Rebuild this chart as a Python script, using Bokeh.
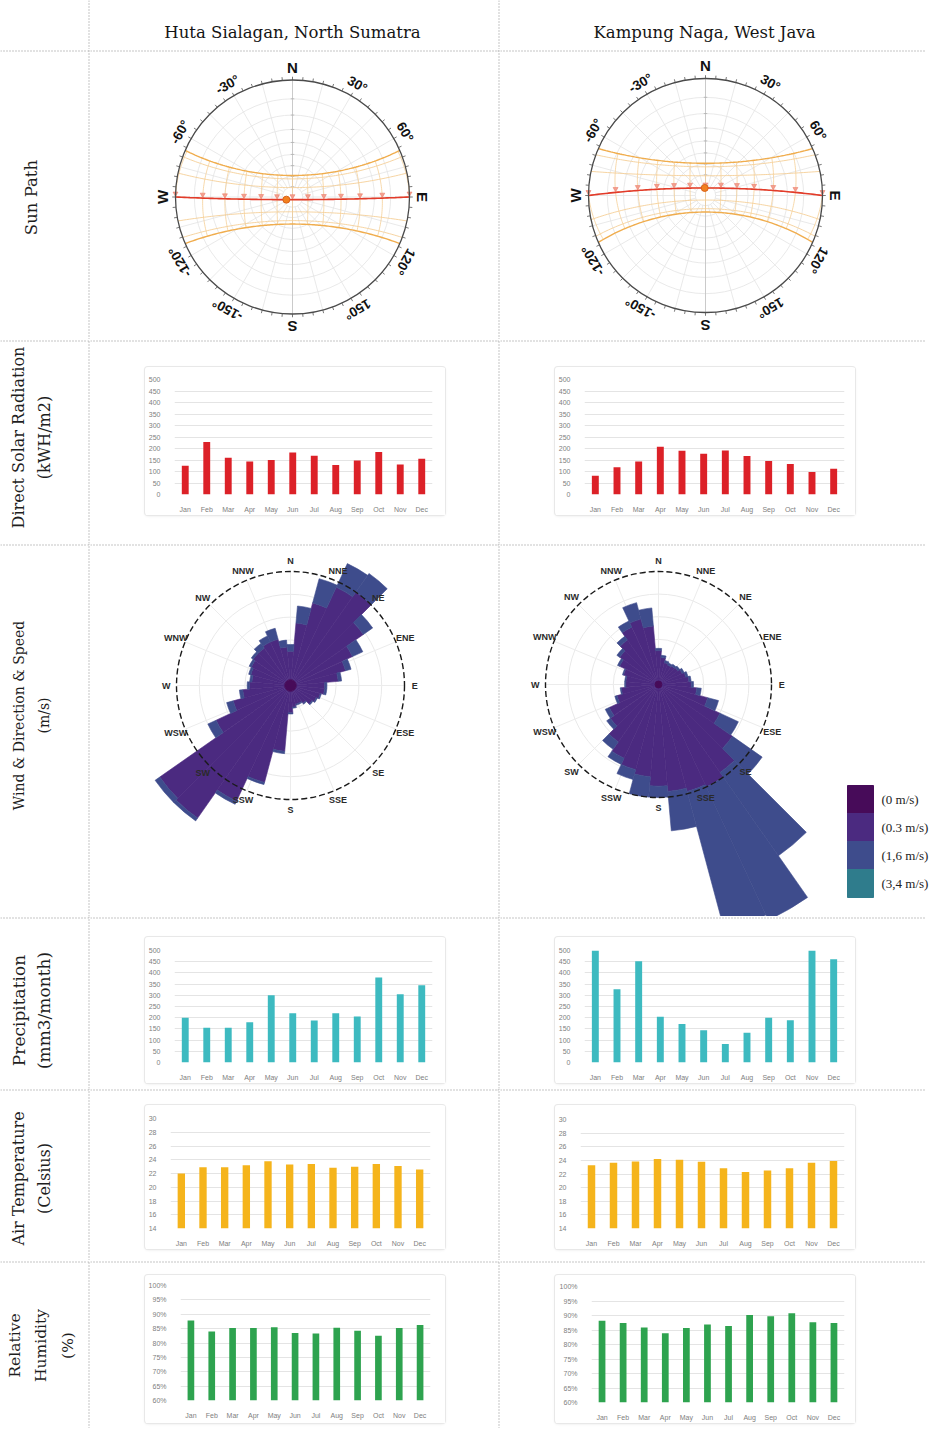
import numpy as np
from bokeh.plotting import figure
from bokeh.layouts import row, column
from bokeh.models import Range1d, FactorRange, FixedTicker, Spacer
from bokeh.embed import file_html
from bokeh.resources import INLINE
from bokeh.core.properties import value

# ---------------- data ----------------
sites = ["Huta Sialagan, North Sumatra", "Kampung Naga, West Java"]
row_titles = ["Sun Path", "Direct Solar Radiation\n(kWH/m2)", "Wind & Direction & Speed\n(m/s)",
              "Precipitation\n(mm3/month)", "Air Temperature\n(Celsius)", "Relative\nHumidity\n(%)"]
months = ["Jan", "Feb", "Mar", "Apr", "May", "Jun", "Jul", "Aug", "Sep", "Oct", "Nov", "Dec"]

solar_huta = [125, 228, 160, 143, 150, 183, 168, 128, 148, 185, 130, 155]
solar_naga = [82, 118, 143, 208, 190, 177, 191, 167, 146, 133, 98, 112]
precip_huta = [200, 155, 155, 180, 300, 220, 187, 220, 205, 380, 305, 345]
precip_naga = [500, 327, 452, 204, 172, 144, 83, 133, 200, 189, 500, 461]
temp_huta = [22.0, 22.9, 22.9, 23.2, 23.8, 23.3, 23.4, 22.85, 23.0, 23.4, 23.1, 22.6]
temp_naga = [23.3, 23.65, 23.85, 24.2, 24.1, 23.8, 22.85, 22.3, 22.5, 22.85, 23.65, 23.9]
hum_huta = [87.8, 84.0, 85.2, 85.2, 85.5, 83.5, 83.3, 85.3, 84.3, 82.5, 85.2, 86.3]
hum_naga = [88.2, 87.4, 85.9, 83.9, 85.7, 86.9, 86.4, 90.2, 89.7, 90.8, 87.7, 87.4]

solar_ticks = [0, 50, 100, 150, 200, 250, 300, 350, 400, 450, 500]
temp_ticks = [14, 16, 18, 20, 22, 24, 26, 28, 30]
hum_ticks = [60, 65, 70, 75, 80, 85, 90, 95, 100]
hum_tick_labels = ["60%", "65%", "70%", "75%", "80%", "85%", "90%", "95%", "100%"]

# sun path
latitude_huta = 2.6
latitude_naga = -7.36
month_declinations = [23.44, 20.2, 11.8, 0.0, -11.8, -20.2, -23.44]
path_declination = 0.0
hours = [6, 7, 8, 9, 10, 11, 12, 13, 14, 15, 16, 17, 18]
now_hour_huta = 12.4
now_hour_naga = 12.05
compass_az = [0, 30, 60, 90, 120, 150, 180, 210, 240, 270, 300, 330]
compass_text = ["N", "30°", "60°", "E", "120°", "150°", "S", "-150°", "-120°", "W", "-60°", "-30°"]

# wind rose (sector centres, degrees clockwise from north; radii in units of the dashed ring)
wind_dirs = [0, 10, 20, 30, 40, 50, 60, 70, 80, 90, 100, 110, 120, 130, 140, 150, 160, 170,
             180, 190, 200, 210, 220, 230, 240, 250, 260, 270, 280, 290, 300, 310, 320, 330, 340, 350]
wind_labels = ["N", "NNE", "NE", "ENE", "E", "ESE", "SE", "SSE", "S", "SSW", "SW", "WSW", "W", "WNW", "NW", "NNW"]
speed_labels = ["(0 m/s)", "(0.3 m/s)", "(1,6 m/s)", "(3,4 m/s)"]
speed_colors = ["#470b59", "#4b2a80", "#3e4c8c", "#2f7c8c"]

calm_huta = 0.05
wind_huta_03 = [0.25, 0.50, 0.70, 0.90, 0.95, 0.73, 0.55, 0.45, 0.37, 0.25, 0.25, 0.22,
                0.20, 0.18, 0.14, 0.12, 0.12, 0.14, 0.19, 0.53, 0.83, 1.07, 1.37, 1.35,
                0.67, 0.47, 0.37, 0.31, 0.29, 0.31, 0.33, 0.35, 0.35, 0.37, 0.37, 0.29]
wind_huta_16 = [0.06, 0.15, 0.22, 0.23, 0.20, 0.10, 0.10, 0.05, 0.03, 0.02, 0.02, 0.01,
                0.01, 0.01, 0.01, 0.01, 0.01, 0.01, 0.01, 0.02, 0.02, 0.03, 0.03, 0.05,
                0.08, 0.06, 0.03, 0.02, 0.02, 0.02, 0.02, 0.02, 0.05, 0.06, 0.10, 0.06]
wind_huta_34 = [0.0, 0.0, 0.0, 0.0, 0.0, 0.0, 0.0, 0.0, 0.0, 0.0, 0.0, 0.0,
                0.0, 0.0, 0.0, 0.0, 0.0, 0.0, 0.0, 0.0, 0.0, 0.0, 0.0, 0.0,
                0.0, 0.0, 0.0, 0.0, 0.0, 0.0, 0.0, 0.0, 0.0, 0.0, 0.0, 0.0]

calm_naga = 0.03
wind_naga_03 = [0.27, 0.21, 0.17, 0.16, 0.17, 0.18, 0.20, 0.22, 0.24, 0.26, 0.31, 0.42,
                0.57, 0.77, 0.92, 0.97, 0.95, 0.92, 0.87, 0.79, 0.75, 0.69, 0.59, 0.49,
                0.45, 0.35, 0.30, 0.26, 0.26, 0.29, 0.35, 0.39, 0.45, 0.53, 0.57, 0.49]
wind_naga_16 = [0.02, 0.02, 0.02, 0.02, 0.02, 0.02, 0.02, 0.02, 0.02, 0.02, 0.04, 0.10,
                0.18, 0.32, 0.90, 1.30, 1.27, 0.35, 0.10, 0.18, 0.09, 0.06, 0.08, 0.04,
                0.04, 0.02, 0.01, 0.01, 0.01, 0.01, 0.02, 0.03, 0.04, 0.06, 0.15, 0.16]
wind_naga_34 = [0.0, 0.0, 0.0, 0.0, 0.0, 0.0, 0.0, 0.0, 0.0, 0.0, 0.0, 0.0,
                0.0, 0.0, 0.0, 0.0, 0.0, 0.0, 0.0, 0.0, 0.0, 0.0, 0.0, 0.0,
                0.0, 0.0, 0.0, 0.0, 0.0, 0.0, 0.0, 0.0, 0.0, 0.0, 0.0, 0.0]

# ---------------- layout constants (px) ----------------
W_LAB, W_L, W_R = 87, 407, 442
SEP = 3                     # band holding a dotted rule
X_LEFT, X_RIGHT = W_LAB + SEP, W_LAB + SEP + W_L + SEP
RULE_END = 925              # page x where the horizontal rules stop
ROW_H = [49, 287, 201, 370, 169, 169, 165]   # content heights (below each rule band)
SERIF = "DejaVu Serif"
SANS = "Liberation Sans"
SEP_COLOR = "#8a8a8a"


def no_align(p):
    try:
        p.frame_align = False
    except Exception:
        pass
    return p


def blank(w, h, xr, yr):
    p = figure(width=w, height=h, x_range=Range1d(*xr), y_range=Range1d(*yr),
               x_axis_type=None, y_axis_type=None, toolbar_location=None, title=None,
               output_backend="svg", min_border=0)
    p.outline_line_color = None
    p.grid.visible = False
    p.background_fill_color = "white"
    p.border_fill_color = "white"
    return no_align(p)


def top_rule(p, w, h, x0_page, rule):
    """dotted horizontal rule in the top band of a figure whose ranges are pixel based"""
    if rule:
        x1 = max(0, min(w, RULE_END - x0_page))
        p.segment(x0=[0], y0=[h - 1.5], x1=[x1], y1=[h - 1.5], line_color=SEP_COLOR,
                  line_dash="1 2", line_width=1)


def vsep(h, rule):
    p = blank(SEP, h, (0, SEP), (0, h))
    p.segment(x0=[1.5], y0=[0], x1=[1.5], y1=[h], line_color=SEP_COLOR, line_dash="1 2", line_width=1)
    if rule:
        p.segment(x0=[0], y0=[h - 1.5], x1=[SEP], y1=[h - 1.5], line_color=SEP_COLOR,
                  line_dash="1 2", line_width=1)
    return p


def label_fig(h, rule, txt, cx, cy, fs, gap):
    p = blank(W_LAB, h, (0, W_LAB), (0, h))
    top_rule(p, W_LAB, h, 0, rule)
    if txt:
        p.text(x=[cx], y=[h - cy], text=[txt], angle=np.pi / 2, text_align="center",
               text_baseline="middle", text_font=value(SERIF), text_font_size=f"{fs}px",
               text_color="#1e1e1e", text_line_height=gap / fs)
    return p


def header_fig(w, h, txt, cx, cy):
    p = blank(w, h, (0, w), (0, h))
    p.text(x=[cx], y=[h - cy], text=[txt], text_align="center", text_baseline="middle",
           text_font=value(SERIF), text_font_size="16.5px", text_color="#151515")
    return p


def px_rule_polar(p, w, cx, cy, R, x0_page):
    """rule in the top band for figures with polar (R-normalised) ranges"""
    x1 = max(0, min(w, RULE_END - x0_page))
    yv = (cy - 1.5) / R
    p.segment(x0=[-cx / R], y0=[yv], x1=[(x1 - cx) / R], y1=[yv], line_color=SEP_COLOR,
              line_dash="1 2", line_width=1)


# ---------- sun path ----------
def sun_xy(lat, dec, ha):
    phi, d, h = np.radians(lat), np.radians(dec), np.radians(ha)
    e = -np.cos(d) * np.sin(h)
    n = np.sin(d) * np.cos(phi) - np.cos(d) * np.sin(phi) * np.cos(h)
    u = np.sin(d) * np.sin(phi) + np.cos(d) * np.cos(phi) * np.cos(h)
    return e / (1 + u), n / (1 + u), u


def day_path(lat, dec, n=120):
    c = -np.tan(np.radians(lat)) * np.tan(np.radians(dec))
    h0 = np.degrees(np.arccos(np.clip(c, -1, 1)))
    ha = np.linspace(-h0, h0, n)
    x, y, _ = sun_xy(lat, dec, ha)
    return x, y


def sunpath_fig(lat, now_hour, w, h, cx, cy, R, x0_page):
    p = blank(w, h, (-cx / R, (w - cx) / R), (-(h - cy) / R, cy / R))
    px_rule_polar(p, w, cx, cy, R, x0_page)
    zen = np.arange(10, 90, 10)
    rr = np.tan(np.radians(zen) / 2)
    p.circle(x=np.zeros(len(rr)), y=np.zeros(len(rr)), radius=rr, fill_color=None,
             line_color="#e3e3e3", line_width=0.8)
    az = np.radians(np.arange(0, 360, 15))
    r0 = np.tan(np.radians(10) / 2)
    p.segment(x0=r0 * np.sin(az), y0=r0 * np.cos(az), x1=np.sin(az), y1=np.cos(az),
              line_color="#e3e3e3", line_width=0.8)
    p.segment(x0=[0], y0=[-1], x1=[0], y1=[1], line_color="#c2c2c2", line_width=0.8)
    ty = np.tan(np.radians(zen) / 2)
    p.segment(x0=-0.015 * np.ones(len(ty)), y0=ty, x1=0.015 * np.ones(len(ty)), y1=ty,
              line_color="#b0b0b0", line_width=0.8)

    decs = np.linspace(-23.44, 23.44, 41)
    xs, ys = [], []
    for t in hours:
        x, y, u = sun_xy(lat, decs, 15 * (t - 12))
        m = u >= -1e-9
        if m.sum() > 1:
            xs.append(x[m])
            ys.append(y[m])
    p.multi_line(xs, ys, line_color="#f5cf97", line_width=0.8)
    for d in month_declinations:
        x, y = day_path(lat, d)
        sol = abs(d) > 23
        p.line(x, y, line_color="#f0ad4e" if sol else "#f5cf97", line_width=1.4 if sol else 0.9)

    x, y = day_path(lat, path_declination)
    p.line(x, y, line_color="#e23b2b", line_width=1.6)
    hx, hy, _ = sun_xy(lat, path_declination, 15 * (np.array(hours, float) - 12))
    p.scatter(hx, hy + 0.03, marker="inverted_triangle", size=5, fill_color="#f3a08f",
              line_color="#e9735f", line_width=0.5)
    sx, sy, _ = sun_xy(lat, path_declination, 15 * (now_hour - 12))
    p.scatter([sx], [sy], size=7, fill_color="#f2801f", line_color="#d9621a")

    p.circle(x=[0], y=[0], radius=[1], fill_color=None, line_color="#4a4a4a", line_width=1.3)
    ta = np.radians(np.arange(0, 360, 5))
    p.segment(x0=np.sin(ta), y0=np.cos(ta), x1=1.028 * np.sin(ta), y1=1.028 * np.cos(ta),
              line_color="#555555", line_width=0.8)

    a = np.radians(compass_az)
    rl = 1.11
    big = np.array([t in ("N", "S", "E", "W") for t in compass_text])
    txt = np.array(compass_text)
    p.text(x=(rl * np.sin(a))[big], y=(rl * np.cos(a))[big], text=list(txt[big]), angle=(-a)[big],
           text_align="center", text_baseline="middle", text_font=value(SANS),
           text_font_style="bold", text_font_size="15px", text_color="#111111")
    p.text(x=(rl * np.sin(a))[~big], y=(rl * np.cos(a))[~big], text=list(txt[~big]), angle=(-a)[~big],
           text_align="center", text_baseline="middle", text_font=value(SANS),
           text_font_style="bold", text_font_size="13.5px", text_color="#111111")
    return p


# ---------- wind rose ----------
def wind_fig(bands, calm, w, h, cx, cy, R, x0_page, legend=False):
    p = blank(w, h, (-cx / R, (w - cx) / R), (-(h - cy) / R, cy / R))
    px_rule_polar(p, w, cx, cy, R, x0_page)
    rings = [0.2, 0.4, 0.6, 0.8]
    p.circle(x=np.zeros(4), y=np.zeros(4), radius=rings, fill_color=None,
             line_color="#e9e9e9", line_width=1)
    sa = np.radians(np.arange(0, 360, 22.5))
    p.segment(x0=np.zeros(len(sa)), y0=np.zeros(len(sa)), x1=np.sin(sa), y1=np.cos(sa),
              line_color="#ececec", line_width=1)

    d = np.array(wind_dirs, float)
    start = np.radians(90 - (d + 5))
    end = np.radians(90 - (d - 5))
    inner = np.full(len(d), calm)
    for vals, col in zip(bands, speed_colors[1:]):
        vals = np.array(vals, float)
        outer = inner + vals
        m = vals > 0
        if m.any():
            p.annular_wedge(x=0, y=0, inner_radius=inner[m], outer_radius=outer[m],
                            start_angle=start[m], end_angle=end[m],
                            fill_color=col, line_color=col, line_width=0.6)
        inner = outer
    p.circle(x=[0], y=[0], radius=[calm], fill_color=speed_colors[0], line_color=speed_colors[0])
    p.circle(x=[0], y=[0], radius=[1], fill_color=None, line_color="#1a1a1a",
             line_dash="6 3", line_width=1.4)
    la = np.radians(np.arange(0, 360, 22.5))
    rl = 1.09
    p.text(x=rl * np.sin(la), y=rl * np.cos(la), text=wind_labels, text_align="center",
           text_baseline="middle", text_font=value(SANS), text_font_style="bold",
           text_font_size="9px", text_color="#2a2a2a")
    if legend:
        tops = np.array([239, 267, 295, 323], float) + SEP
        p.quad(left=(347 - cx) / R, right=(373 - cx) / R, top=(cy - tops) / R,
               bottom=(cy - tops - 28) / R, fill_color=speed_colors, line_color=speed_colors)
        p.text(x=np.full(4, (381 - cx) / R), y=(cy - tops - 14) / R, text=speed_labels,
               text_align="left", text_baseline="middle", text_font=value("Liberation Serif"),
               text_font_size="13px", text_color="#222222")
    return p


# ---------- bar charts (card = figure, placed inside the cell) ----------
def bar_card(vals, color, cw, ch, bl, bt, fw, fh, y0, y1, ticks, labels, bw=0.32):
    p = figure(width=cw, height=ch, x_range=FactorRange(factors=months), y_range=Range1d(y0, y1),
               output_backend="svg", toolbar_location=None, title=None,
               min_border_left=bl, min_border_top=bt, min_border_right=cw - bl - fw,
               min_border_bottom=ch - bt - fh)
    no_align(p)
    p.vbar(x=months, top=vals, bottom=y0, width=bw, fill_color=color, line_color=None)
    p.outline_line_color = None
    p.background_fill_color = "white"
    p.border_fill_color = "white"
    p.xgrid.grid_line_color = None
    p.ygrid.grid_line_color = "#e4e4e4"
    p.yaxis.ticker = FixedTicker(ticks=ticks)
    p.yaxis.major_label_overrides = {t: l for t, l in zip(ticks, labels)}
    for ax in p.axis:
        ax.axis_line_color = None
        ax.major_tick_line_color = None
        ax.minor_tick_line_color = None
        ax.major_label_text_font = SANS
        ax.major_label_text_font_size = "7px"
        ax.major_label_text_color = "#808080"
    p.xaxis.major_label_standoff = 5
    p.yaxis.major_label_standoff = 8
    try:
        p.styles = {"box-shadow": "0 0 0 1px #e8e8e8, 0 1px 3px rgba(0,0,0,0.10)",
                    "border-radius": "3px"}
    except Exception:
        pass
    return p


def bar_cell(cell_w, cell_h, cl, ct, chart, x0_page):
    """cell_h / ct exclude the rule band; the top strip figure carries the rule"""
    cw, ch = chart.width, chart.height
    top_h = ct + SEP
    top = blank(cell_w, top_h, (0, cell_w), (0, top_h))
    top_rule(top, cell_w, top_h, x0_page, True)
    mid = row(Spacer(width=cl, height=ch), chart, Spacer(width=cell_w - cl - cw, height=ch))
    bot = Spacer(width=cell_w, height=cell_h - ct - ch)
    return column(top, mid, bot)


solar_lbl = [str(t) for t in solar_ticks]
temp_lbl = [str(t) for t in temp_ticks]
H = ROW_H
T = [H[0]] + [h + SEP for h in H[1:]]   # full row heights including the rule band

# ---------------- assemble ----------------
rows = []
rows.append(row(label_fig(T[0], False, "", 0, 0, 14, 22), vsep(T[0], False),
                header_fig(W_L, T[0], sites[0], 202, 32), vsep(T[0], False),
                header_fig(W_R, T[0], sites[1], 204, 32)))
rows.append(row(label_fig(T[1], True, row_titles[0], 31, 145 + SEP, 16.5, 22), vsep(T[1], True),
                sunpath_fig(latitude_huta, now_hour_huta, W_L, T[1], 202, 144.5 + SEP, 117, X_LEFT),
                vsep(T[1], True),
                sunpath_fig(latitude_naga, now_hour_naga, W_R, T[1], 205, 143 + SEP, 117, X_RIGHT)))
rows.append(row(label_fig(T[2], True, row_titles[1], 31, 95 + SEP, 16, 22), vsep(T[2], True),
                bar_cell(W_L, H[2], 55, 25,
                         bar_card(solar_huta, "#dc2128", 300, 148, 27, 12, 260, 115, 0, 500,
                                  solar_ticks, solar_lbl), X_LEFT),
                vsep(T[2], True),
                bar_cell(W_R, H[2], 55, 25,
                         bar_card(solar_naga, "#dc2128", 300, 148, 27, 12, 262, 115, 0, 500,
                                  solar_ticks, solar_lbl), X_RIGHT)))
rows.append(row(label_fig(T[3], True, row_titles[2], 31, 169 + SEP, 14, 22), vsep(T[3], True),
                wind_fig([wind_huta_03, wind_huta_16, wind_huta_34], calm_huta, W_L, T[3],
                         200, 139 + SEP, 114, X_LEFT),
                vsep(T[3], True),
                wind_fig([wind_naga_03, wind_naga_16, wind_naga_34], calm_naga, W_R, T[3],
                         158, 138 + SEP, 113, X_RIGHT, legend=True)))
rows.append(row(label_fig(T[4], True, row_titles[3], 31, 91 + SEP, 17, 22), vsep(T[4], True),
                bar_cell(W_L, H[4], 55, 18,
                         bar_card(precip_huta, "#3dbac0", 300, 146, 27, 13, 260, 115, 0, 500,
                                  solar_ticks, solar_lbl), X_LEFT),
                vsep(T[4], True),
                bar_cell(W_R, H[4], 55, 18,
                         bar_card(precip_naga, "#3dbac0", 300, 146, 27, 13, 262, 115, 0, 500,
                                  solar_ticks, solar_lbl), X_RIGHT)))
rows.append(row(label_fig(T[5], True, row_titles[4], 31, 87 + SEP, 16, 22), vsep(T[5], True),
                bar_cell(W_L, H[5], 55, 14,
                         bar_card(temp_huta, "#f5b41c", 300, 144, 20, 13, 265, 114, 14, 30,
                                  temp_ticks, temp_lbl, bw=0.34), X_LEFT),
                vsep(T[5], True),
                bar_cell(W_R, H[5], 55, 14,
                         bar_card(temp_naga, "#f5b41c", 300, 144, 24, 14, 265, 114, 14, 30,
                                  temp_ticks, temp_lbl, bw=0.34), X_RIGHT)))
rows.append(row(label_fig(T[6], True, row_titles[5], 41, 82 + SEP, 15.5, 23), vsep(T[6], True),
                bar_cell(W_L, H[6], 55, 12,
                         bar_card(hum_huta, "#2ea34f", 300, 148, 32, 10, 253, 115, 60, 100,
                                  hum_ticks, hum_tick_labels), X_LEFT),
                vsep(T[6], True),
                bar_cell(W_R, H[6], 55, 12,
                         bar_card(hum_naga, "#2ea34f", 300, 148, 36, 11, 253, 116, 60, 100,
                                  hum_ticks, hum_tick_labels), X_RIGHT)))

layout = column(*rows)

open("out.html", "w").write(file_html(layout, INLINE))
